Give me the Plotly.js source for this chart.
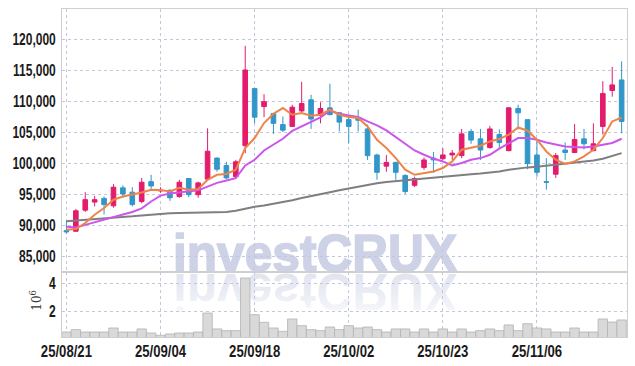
<!DOCTYPE html>
<html><head><meta charset="utf-8">
<script src="https://cdn.plot.ly/plotly-3.0.1.min.js"></script>
<style>
html,body{margin:0;padding:0;background:#fff;}
#wrap{position:relative;width:635px;height:366px;}
#wm{position:absolute;left:0;top:0;z-index:0;}
#chart{position:absolute;left:0;top:0;width:635px;height:366px;z-index:1;}
</style></head>
<body>
<div id="wrap">
<svg id="wm" width="635" height="366">
 <defs>
  <linearGradient id="fade" x1="0" y1="0" x2="0" y2="1">
   <stop offset="0" stop-color="#dcdfed" stop-opacity="0.1"/>
   <stop offset="0.5" stop-color="#dcdfed" stop-opacity="0.6"/>
   <stop offset="1" stop-color="#dcdfed" stop-opacity="1"/>
  </linearGradient>
 </defs>
 <text x="173" y="271" font-family="Liberation Sans, Arial, sans-serif" font-weight="bold" font-size="52" fill="#cdd2e7" stroke="#cdd2e7" stroke-width="1.6" textLength="284" lengthAdjust="spacingAndGlyphs">investCRUX</text>
 <text x="173" y="271" transform="translate(0,545) scale(1,-1)" font-family="Liberation Sans, Arial, sans-serif" font-weight="bold" font-size="52" fill="url(#fade)" textLength="284" lengthAdjust="spacingAndGlyphs">investCRUX</text>
</svg>
<div id="chart"></div>
</div>
<script>
const dates = ["25/08/21","25/08/22","25/08/25","25/08/26","25/08/27","25/08/28","25/08/29",
"25/09/01","25/09/02","25/09/03","25/09/04","25/09/05","25/09/08","25/09/09","25/09/10","25/09/11","25/09/12",
"25/09/15","25/09/16","25/09/17","25/09/18","25/09/19","25/09/22","25/09/23","25/09/24","25/09/25","25/09/26",
"25/09/29","25/09/30","25/10/01","25/10/02","25/10/10","25/10/13","25/10/14","25/10/15","25/10/16","25/10/17",
"25/10/20","25/10/21","25/10/22","25/10/23","25/10/24","25/10/27","25/10/28","25/10/29","25/10/30","25/10/31",
"25/11/03","25/11/04","25/11/05","25/11/06","25/11/07","25/11/10","25/11/11","25/11/12","25/11/13","25/11/14",
"25/11/17","25/11/18","25/11/19"];

const openP = [89100,89000,92400,93700,94300,93100,96000,95300,93800,97000,95500,95600,94600,97500,94900,97400,100800,99600,97800,102800,
112000,109100,108000,106200,105900,108400,110200,107700,108900,108100,107000,107300,105500,101300,99500,100100,98000,96400,99300,100800,
100700,101300,101200,105100,103900,102500,104600,102000,108800,107000,101300,97000,98200,102100,101700,103900,102000,105900,111700,113400];
const highP = [90700,92600,95300,94700,94600,96600,96400,96100,97600,98100,96100,95800,97300,97500,97000,105600,100900,100200,100500,118900,
112000,111100,108000,107500,109400,113100,111000,109800,112800,108200,107800,108600,106200,101500,101300,100200,98200,97800,100900,101800,
102400,102100,105500,105500,105500,106000,105400,109000,109400,107000,103500,100800,101600,103300,106300,105500,106400,113200,115500,116400];
const lowP = [88600,88900,92100,93000,91700,92800,94400,93000,93500,95700,95200,93900,94400,94500,94400,97200,98600,97400,97600,101600,
106400,107400,104700,105000,105800,108200,105500,106400,107700,105100,103200,105100,100500,97300,98600,97300,95000,96100,98900,98400,
100500,100500,100800,103100,100500,102300,102400,101900,105400,99000,97800,95700,97600,100500,101600,102200,101900,104600,110700,104800];
const closeP = [88900,92300,94100,94100,93300,96100,95000,93300,96900,96300,95600,94400,96900,94900,96800,101900,99000,97600,100200,115000,
107400,109900,106400,105300,109000,109600,107100,108800,107800,106600,105900,106900,101200,98500,100100,98500,95400,97500,100500,100500,
101300,101600,104700,103700,102100,105500,103300,108900,108100,99900,98500,96900,101200,101700,103800,103100,103100,111200,112600,106700];

const ma5 = [89240,89350,90320,91660,92740,94080,94610,94890,95260,95700,95650,95420,96000,95700,95800,97300,98100,98230,98920,102400,
104030,106450,107950,108870,107790,108060,107630,107790,108600,107790,107420,107260,105900,103760,102420,100800,98920,98110,98390,98650,
99190,100260,102150,102520,102790,103480,103870,104560,105740,105210,103760,101870,100530,99840,100260,101070,102150,104030,106710,107350];
const ma20 = [89730,89610,90030,90420,90800,91290,91700,92100,92700,93800,94750,95080,95260,95400,95600,96200,96800,97190,97550,99600,
100530,102030,102950,103920,105210,105900,106710,107350,108440,107950,107680,107420,106710,106070,105260,104190,103110,102030,101340,100720,
100260,99610,100000,100530,100800,101340,102310,103230,104030,104030,103760,103320,102950,102680,102580,102520,102680,102950,103230,103920];
const ma60 = [90600,90700,90800,90900,91000,91150,91250,91400,91550,91700,91850,91900,91950,92000,92000,92050,92050,92100,92300,92650,
92950,93150,93400,93700,94000,94350,94700,95000,95300,95600,95900,96200,96500,96750,96950,97100,97250,97400,97500,97600,
97750,97950,98100,98200,98300,98450,98650,98900,99150,99300,99400,99550,99700,99850,100000,100200,100400,100700,101100,101600];

const volume = [510000,680000,510000,510000,510000,800000,510000,510000,730000,440000,270000,370000,440000,440000,510000,1880000,730000,610000,610000,4410000,
1760000,1210000,800000,560000,1450000,970000,680000,610000,870000,680000,970000,800000,870000,680000,510000,730000,730000,510000,730000,510000,
730000,510000,730000,510000,610000,730000,610000,1020000,610000,1110000,800000,730000,510000,510000,800000,510000,510000,1450000,1230000,1380000];

const tickDates = ["25/08/21","25/09/04","25/09/18","25/10/02","25/10/23","25/11/06"];
const priceTicks = [85000,90000,95000,100000,105000,110000,115000,120000];
const volTicks = [2000000,4000000];
const volTickText = ["2","4"];

const RED = "#e31c6c", BLUE = "#3197c8";
const tickFont = {family:"Liberation Sans, Arial, sans-serif", size:16, color:"#1a1a1a", weight:"bold"};
const gridC = "#c3c7dc";

const traces = [
 {type:"candlestick", x:dates, open:openP, high:highP, low:lowP, close:closeP, xaxis:"x", yaxis:"y",
  increasing:{line:{color:RED,width:1}, fillcolor:RED},
  decreasing:{line:{color:BLUE,width:1}, fillcolor:BLUE},
  hoverinfo:"none", showlegend:false},
 {type:"scatter", mode:"lines", x:dates, y:ma60, line:{color:"#7f7f7f", width:2}, hoverinfo:"none", showlegend:false},
 {type:"scatter", mode:"lines", x:dates, y:ma20, line:{color:"#cc55ec", width:2}, hoverinfo:"none", showlegend:false},
 {type:"scatter", mode:"lines", x:dates, y:ma5, line:{color:"#ee8448", width:2}, hoverinfo:"none", showlegend:false},
 {type:"bar", x:dates, y:volume, xaxis:"x", yaxis:"y2", marker:{color:"#d9d9d9", line:{color:"#b3b3b3", width:0.8}}, hoverinfo:"none", showlegend:false}
];

const layout = {
 width:635, height:366,
 margin:{l:62, r:8, t:9, b:29},
 paper_bgcolor:"rgba(0,0,0,0)", plot_bgcolor:"rgba(0,0,0,0)",
 bargap:0,
 xaxis:{type:"category", categoryorder:"array", categoryarray:dates, range:[-0.47,59.57],
  rangeslider:{visible:false}, tickmode:"array", tickvals:tickDates, ticktext:tickDates,
  showgrid:true, gridcolor:gridC, griddash:"dot", gridwidth:1,
  showline:true, linecolor:"#cfcfcf", linewidth:1, mirror:"all", ticks:"", tickfont:tickFont, anchor:"y2", fixedrange:true},
 yaxis:{domain:[0.198,1], range:[82420,124840], tickmode:"array", tickvals:priceTicks, tickformat:",d",
  showgrid:true, gridcolor:gridC, griddash:"dot", zeroline:false, ticklabelstandoff:2,
  showline:true, linecolor:"#cfcfcf", mirror:true, ticks:"", tickfont:tickFont, fixedrange:true},
 yaxis2:{domain:[0,0.198], range:[150000,4840000], tickmode:"array", tickvals:volTicks, ticktext:volTickText,
  showgrid:true, gridcolor:gridC, griddash:"dot", zeroline:false, ticklabelstandoff:2,
  showline:true, linecolor:"#cfcfcf", mirror:true, ticks:"", tickfont:tickFont, fixedrange:true},
 annotations:[{text:"10<sup>6</sup>", xref:"paper", yref:"paper", x:-0.064, y:0.075, showarrow:false, textangle:-90,
  font:{family:"DejaVu Serif, serif", size:12, color:"#333"}}]
};
Plotly.newPlot("chart", traces, layout, {staticPlot:true, displayModeBar:false}).then(function(gd){
  // condense tick label glyphs to match the narrow face of the reference
  gd.querySelectorAll('.xtick text').forEach(function(t){
    var w = t.getComputedTextLength();
    t.setAttribute('textLength', (w*0.82).toFixed(1));
    t.setAttribute('lengthAdjust','spacingAndGlyphs');
  });
  gd.querySelectorAll('.ytick text, .y2tick text').forEach(function(t){
    var w = t.getComputedTextLength();
    t.setAttribute('textLength', (w*0.75).toFixed(1));
    t.setAttribute('lengthAdjust','spacingAndGlyphs');
  });
});
</script>
</body></html>
